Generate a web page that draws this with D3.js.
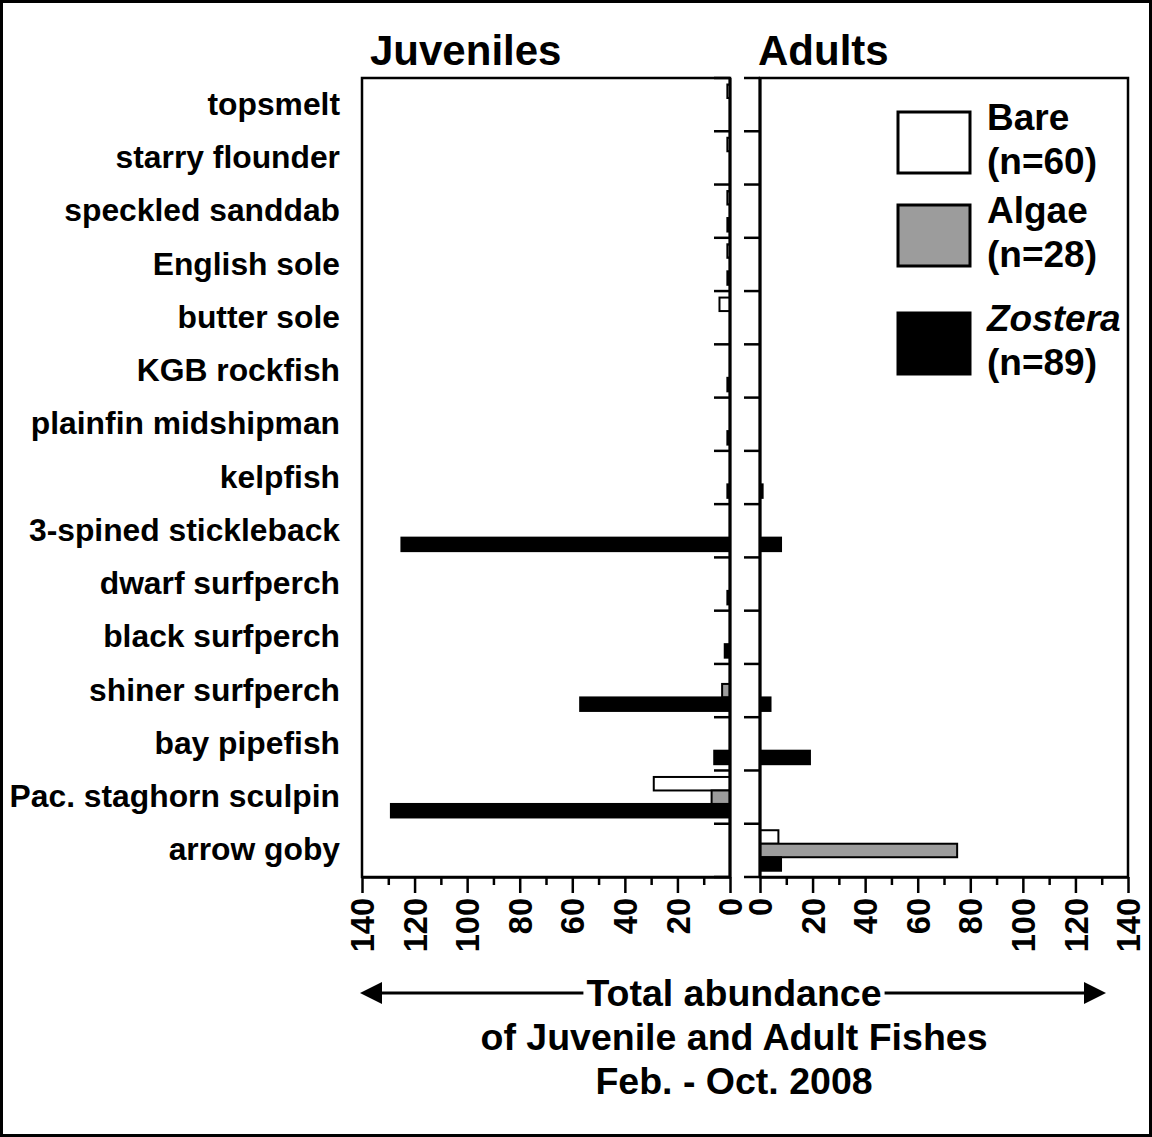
<!DOCTYPE html>
<html>
<head>
<meta charset="utf-8">
<script src="https://cdn.jsdelivr.net/npm/d3@7"></script>
<style>
  html, body { margin: 0; padding: 0; background: #fff; }
  svg text { font-family: "Liberation Sans", Arial, Helvetica, sans-serif; font-weight: bold; fill: #000; }
</style>
</head>
<body>
<svg id="chart" width="1152" height="1137"></svg>
<script>
// Fish species, top to bottom
const species = [
  "topsmelt", "starry flounder", "speckled sanddab", "English sole", "butter sole",
  "KGB rockfish", "plainfin midshipman", "kelpfish", "3-spined stickleback",
  "dwarf surfperch", "black surfperch", "shiner surfperch", "bay pipefish",
  "Pac. staghorn sculpin", "arrow goby"
];
const habitats = ["Bare", "Algae", "Zostera"];
const habitatN = ["(n=60)", "(n=28)", "(n=89)"];

// Juvenile totals per habitat
const juvBare    = [1, 1, 1, 1, 4, 0, 0, 0, 0, 0, 0, 0, 0, 29, 0];
const juvAlgae   = [0, 0, 0, 0, 0, 0, 0, 0, 0, 0, 0, 3, 0, 7, 0];
const juvZostera = [0, 0, 1, 1, 0, 1, 1, 1, 125, 1, 2, 57, 6, 129, 0];

// Adult totals per habitat
const adultBare    = [0, 0, 0, 0, 0, 0, 0, 0, 0, 0, 0, 0, 0, 0, 7];
const adultAlgae   = [0, 0, 0, 0, 0, 0, 0, 0, 0, 0, 0, 0, 0, 0, 75];
const adultZostera = [0, 0, 0, 0, 0, 0, 0, 1, 8, 0, 0, 4, 19, 0, 8];

const axisTicks = [0, 20, 40, 60, 80, 100, 120, 140];
const minorTicks = [10, 30, 50, 70, 90, 110, 130];

const fills = { Bare: "#ffffff", Algae: "#9c9c9c", Zostera: "#000000" };

const svg = d3.select("#chart");

// outer frame
svg.append("rect").attr("x", 1.5).attr("y", 1.5).attr("width", 1149).attr("height", 1134)
  .attr("fill", "none").attr("stroke", "#000").attr("stroke-width", 3);

const plotTop = 78, plotBottom = 877;
const y = d3.scaleBand().domain(species).range([plotTop, plotBottom]).paddingInner(0).paddingOuter(0);
const ySub = d3.scaleBand().domain(habitats).range([6.5, 47]).paddingInner(0);

const xJ = d3.scaleLinear().domain([0, 140]).range([730, 362]);
const xA = d3.scaleLinear().domain([0, 140]).range([760, 1128]);

function rows(bare, algae, zos) {
  const out = [];
  species.forEach((s, i) => {
    out.push({ s, h: "Bare", v: bare[i] });
    out.push({ s, h: "Algae", v: algae[i] });
    out.push({ s, h: "Zostera", v: zos[i] });
  });
  return out.filter(d => d.v > 0);
}

function panel(x, data) {
  const g = svg.append("g");
  const x0 = x(0), x1 = x(140);
  const left = Math.min(x0, x1), right = Math.max(x0, x1);

  // bars
  g.selectAll("rect.bar").data(data).join("rect")
    .attr("class", "bar")
    .attr("x", d => Math.min(x(0), x(d.v)))
    .attr("width", d => Math.abs(x(d.v) - x(0)))
    .attr("y", d => y(d.s) + ySub(d.h))
    .attr("height", ySub.bandwidth())
    .attr("fill", d => fills[d.h])
    .attr("stroke", "#000").attr("stroke-width", 2);

  // frame
  g.append("rect").attr("x", left).attr("y", plotTop).attr("width", right - left).attr("height", plotBottom - plotTop)
    .attr("fill", "none").attr("stroke", "#000").attr("stroke-width", 2.5);
  // zero line
  g.append("line").attr("x1", x0).attr("x2", x0).attr("y1", plotTop).attr("y2", plotBottom)
    .attr("stroke", "#000").attr("stroke-width", 3);

  // category boundary ticks on the zero line
  const bounds = d3.range(species.length + 1).map(i => plotTop + i * y.step());
  g.selectAll("line.cat").data(bounds).join("line").attr("class", "cat")
    .attr("x1", x0 - 16).attr("x2", x0).attr("y1", d => d).attr("y2", d => d)
    .attr("stroke", "#000").attr("stroke-width", 2.5);

  // bottom axis
  const ax = g.append("g").attr("transform", `translate(0,${plotBottom})`)
    .call(d3.axisBottom(x).tickValues(axisTicks).tickSize(16).tickSizeOuter(0).tickPadding(4));
  ax.select(".domain").attr("stroke-width", 2.5);
  ax.selectAll(".tick line").attr("stroke-width", 2.5);
  ax.selectAll(".tick text")
    .attr("transform", "rotate(-90)")
    .attr("x", -21).attr("y", 0).attr("dy", "0.36em")
    .style("text-anchor", "end")
    .style("font-size", "32.5px")
    .style("font-family", "'Liberation Sans', Arial, sans-serif")
    .style("font-weight", "bold");
  const mx = g.append("g").attr("transform", `translate(0,${plotBottom})`)
    .call(d3.axisBottom(x).tickValues(minorTicks).tickSize(8).tickSizeOuter(0).tickFormat(""));
  mx.select(".domain").remove();
  mx.selectAll(".tick line").attr("stroke-width", 2.5);
}

panel(xJ, rows(juvBare, juvAlgae, juvZostera));
panel(xA, rows(adultBare, adultAlgae, adultZostera));

// panel titles
svg.append("text").attr("x", 370).attr("y", 65).style("font-size", "42px").text("Juveniles");
svg.append("text").attr("x", 758).attr("y", 65).style("font-size", "42px").text("Adults");

// species labels
svg.append("g").selectAll("text").data(species).join("text")
  .attr("x", 340)
  .attr("y", d => y(d) + y.bandwidth() / 2 - 1)
  .attr("dy", "0.35em")
  .style("text-anchor", "end")
  .style("font-size", "31.8px")
  .text(d => d);

// legend
const legY = [112, 205, 313];
const legBox = svg.append("g");
habitats.forEach((h, i) => {
  legBox.append("rect").attr("x", 898).attr("y", legY[i]).attr("width", 72).attr("height", 61)
    .attr("fill", fills[h]).attr("stroke", "#000").attr("stroke-width", 3);
  legBox.append("text").attr("x", 987).attr("y", legY[i] + 18)
    .style("font-size", "37px").style("font-style", h === "Zostera" ? "italic" : "normal").text(h);
  legBox.append("text").attr("x", 987).attr("y", legY[i] + 62)
    .style("font-size", "37px").text(habitatN[i]);
});

// bottom caption with double arrow
const cx = 734;
const arrowY = 993;
const cap = svg.append("g");
cap.append("line").attr("x1", 378).attr("x2", 1088).attr("y1", arrowY).attr("y2", arrowY)
  .attr("stroke", "#000").attr("stroke-width", 3);
cap.append("path").attr("d", `M360,${arrowY} L382,${arrowY - 11} L382,${arrowY + 11} Z`).attr("fill", "#000");
cap.append("path").attr("d", `M1106,${arrowY} L1084,${arrowY - 11} L1084,${arrowY + 11} Z`).attr("fill", "#000");
const t1 = cap.append("text").attr("x", cx).attr("y", 1006).style("text-anchor", "middle")
  .style("font-size", "37.5px").text("Total abundance");
const bb = t1.node().getBBox();
cap.insert("rect", "text").attr("x", bb.x - 3).attr("y", bb.y).attr("width", bb.width + 6).attr("height", bb.height)
  .attr("fill", "#fff");
cap.append("text").attr("x", cx).attr("y", 1050).style("text-anchor", "middle")
  .style("font-size", "37.5px").text("of Juvenile and Adult Fishes");
cap.append("text").attr("x", cx).attr("y", 1094).style("text-anchor", "middle")
  .style("font-size", "37.5px").text("Feb. - Oct. 2008");
</script>
</body>
</html>
